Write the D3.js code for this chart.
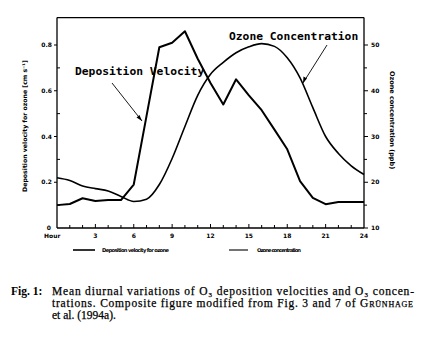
<!DOCTYPE html>
<html><head><meta charset="utf-8">
<script src="https://cdn.jsdelivr.net/npm/d3@7"></script>
<style>body{margin:0;background:#fff}svg{display:block}</style>
</head><body>
<script>
// Data
const hours = [0,1,2,3,4,5,6,7,8,9,10,11,12,13,14,15,16,17,18,19,20,21,22,23,24];
const depositionVelocity = [0.10,0.105,0.13,0.118,0.122,0.122,0.19,0.49,0.79,0.81,0.86,0.74,0.634,0.54,0.65,0.58,0.515,0.43,0.344,0.205,0.132,0.104,0.114,0.114,0.114];
const ozoneConc = [21.0,20.4,19.2,18.6,18.1,16.9,15.8,16.3,19.5,25.2,32.2,39.0,43.6,46.2,48.3,49.6,50.3,49.7,47.2,42.8,36.3,30.0,26.3,23.6,21.7];
const xTicks = [3,6,9,12,15,18,21,24];
const leftTicks = [0,0.2,0.4,0.6,0.8];
const leftTickLabels = ["0","0.2","0.4","0.6","0.8"];
const rightTicks = [10,20,30,40,50];
const legendLabels = ["Deposition velocity for ozone","Ozone concentration"];
const annotations = ["Deposition Velocity","Ozone Concentration"];
const captionLines = ["Mean diurnal variations of O₃ deposition velocities and O₃ concen-",
                      "trations. Composite figure modified from Fig. 3 and 7 of G{rünhage}",
                      "et al. (1994a)."];

const W = 432, H = 350;
const svg = d3.select("body").append("svg").attr("width", W).attr("height", H);

const x = d3.scaleLinear().domain([0,24]).range([57,364]);
const yL = d3.scaleLinear().domain([0,0.8]).range([228,45]);
const yR = d3.scaleLinear().domain([10,50]).range([228,45]);
const topV = 0.92;

const g = svg.append("g");
const lab = "font-family:'DejaVu Sans',sans-serif;font-weight:bold;font-size:6px";

// frame
g.append("line").attr("x1",x(0)).attr("x2",x(0)).attr("y1",yL(topV)).attr("y2",yL(0)).attr("stroke","#000").attr("stroke-width",1.3);
g.append("line").attr("x1",x(24)).attr("x2",x(24)).attr("y1",yL(topV)).attr("y2",yL(0)).attr("stroke","#000").attr("stroke-width",1.3);
g.append("line").attr("x1",x(0)).attr("x2",x(24)).attr("y1",yL(topV)).attr("y2",yL(topV)).attr("stroke","#000").attr("stroke-width",1.2);
g.append("line").attr("x1",x(0)).attr("x2",x(24)).attr("y1",yL(0)).attr("y2",yL(0)).attr("stroke","#000").attr("stroke-width",1.3);

// bottom ticks (every hour, inside)
g.selectAll(".bt").data(d3.range(1,24)).enter().append("line")
  .attr("x1",d=>x(d)).attr("x2",d=>x(d)).attr("y1",yL(0)).attr("y2",d=>yL(0)-(d%3===0?4:3))
  .attr("stroke","#000").attr("stroke-width",1);
g.selectAll(".bl").data(xTicks).enter().append("text")
  .attr("x",d=>x(d)).attr("y",yL(0)+10).attr("text-anchor","middle").attr("style",lab).text(d=>d);
g.append("text").attr("x",x(0)-13).attr("y",yL(0)+10).attr("style",lab).text("Hour");

// left ticks
g.selectAll(".lt").data(leftTicks.slice(1)).enter().append("line")
  .attr("x1",x(0)-3).attr("x2",x(0)).attr("y1",d=>yL(d)).attr("y2",d=>yL(d)).attr("stroke","#000");
g.selectAll(".lm").data([0.1,0.3,0.5,0.7]).enter().append("line")
  .attr("x1",x(0)).attr("x2",x(0)+3).attr("y1",d=>yL(d)).attr("y2",d=>yL(d)).attr("stroke","#000");
g.selectAll(".ll").data(leftTicks).enter().append("text")
  .attr("x",(d,i)=>i===0?x(0)-6:x(0)-5).attr("y",d=>yL(d)+2).attr("text-anchor","end").attr("style",lab)
  .text((d,i)=>leftTickLabels[i]);

// right ticks
g.selectAll(".rt").data(rightTicks).enter().append("line")
  .attr("x1",x(24)).attr("x2",x(24)+4).attr("y1",d=>yR(d)).attr("y2",d=>yR(d)).attr("stroke","#000");
g.selectAll(".rm").data([15,25,35,45]).enter().append("line")
  .attr("x1",x(24)).attr("x2",x(24)+3).attr("y1",d=>yR(d)).attr("y2",d=>yR(d)).attr("stroke","#000");
g.selectAll(".rl").data(rightTicks).enter().append("text")
  .attr("x",x(24)+7).attr("y",d=>yR(d)+2).attr("style",lab).text(d=>d);

// axis titles
svg.append("text").attr("transform","translate(27,126) rotate(-90)").attr("text-anchor","middle")
  .attr("style","font-family:'DejaVu Sans',sans-serif;font-weight:bold;font-size:6.2px")
  .text("Deposition velocity for ozone [cm s⁻¹]");
svg.append("text").attr("transform","translate(390,120) rotate(90)").attr("text-anchor","middle")
  .attr("style","font-family:'DejaVu Sans',sans-serif;font-weight:bold;font-size:6.5px")
  .text("Ozone concentration (ppb)");

// lines
const dep = hours.map((h,i)=>[h,depositionVelocity[i]]);
const oz = hours.map((h,i)=>[h,ozoneConc[i]]);
g.append("path").datum(oz).attr("fill","none").attr("stroke","#000").attr("stroke-width",1.6)
  .attr("stroke-linejoin","round").attr("d",d3.line().x(d=>x(d[0])).y(d=>yR(d[1])).curve(d3.curveMonotoneX));
g.append("path").datum(dep).attr("fill","none").attr("stroke","#000").attr("stroke-width",2)
  .attr("stroke-linejoin","round").attr("d",d3.line().x(d=>x(d[0])).y(d=>yL(d[1])));

// annotations
const mono = "font-family:'DejaVu Sans Mono',monospace;font-weight:bold;font-size:11.3px";
svg.append("text").attr("x",75).attr("y",75).attr("style",mono).text(annotations[0]);
svg.append("text").attr("x",229).attr("y",40).attr("style",mono).text(annotations[1]);
svg.append("line").attr("x1",112).attr("y1",83).attr("x2",142).attr("y2",121).attr("stroke","#000").attr("stroke-width",0.9);
svg.append("path").attr("d","M142,121 L136.5,117.5 L139.5,115 Z").attr("fill","#000");
svg.append("line").attr("x1",327).attr("y1",45).attr("x2",303).attr("y2",83).attr("stroke","#000").attr("stroke-width",0.9);
svg.append("path").attr("d","M303,83 L303.5,76.5 L307,78.5 Z").attr("fill","#000");

// legend
const leg = "font-family:'DejaVu Sans',sans-serif;font-weight:bold;font-size:5.2px";
svg.append("line").attr("x1",73).attr("x2",95).attr("y1",250).attr("y2",250).attr("stroke","#000").attr("stroke-width",1.6);
svg.append("text").attr("x",102).attr("y",252).attr("style",leg).attr("textLength",67).text(legendLabels[0]);
svg.append("line").attr("x1",229).attr("x2",248).attr("y1",250).attr("y2",250).attr("stroke","#000").attr("stroke-width",1.1);
svg.append("text").attr("x",257).attr("y",252).attr("style",leg).attr("textLength",44).text(legendLabels[1]);

// caption
const cap = "font-family:'Liberation Serif',serif;font-size:11.5px";
svg.append("text").attr("x",11).attr("y",295).attr("style",cap+";font-weight:bold").text("Fig. 1:");
const capY = [295,307,319];
const capLen = [362,361,null];
captionLines.forEach((line,i)=>{
  const t = svg.append("text").attr("x",52).attr("y",capY[i]).attr("style",cap).attr("stroke","#000").attr("stroke-width",0.25);
  if (capLen[i]) t.attr("textLength",capLen[i]).attr("lengthAdjust","spacing");
  const parts = line.split(/(\{[^}]*\})/);
  parts.forEach(p=>{
    if (p.startsWith("{")) t.append("tspan").attr("style","font-variant:small-caps").text(p.slice(1,-1));
    else if (p) t.append("tspan").text(p);
  });
});
</script>
</body></html>
